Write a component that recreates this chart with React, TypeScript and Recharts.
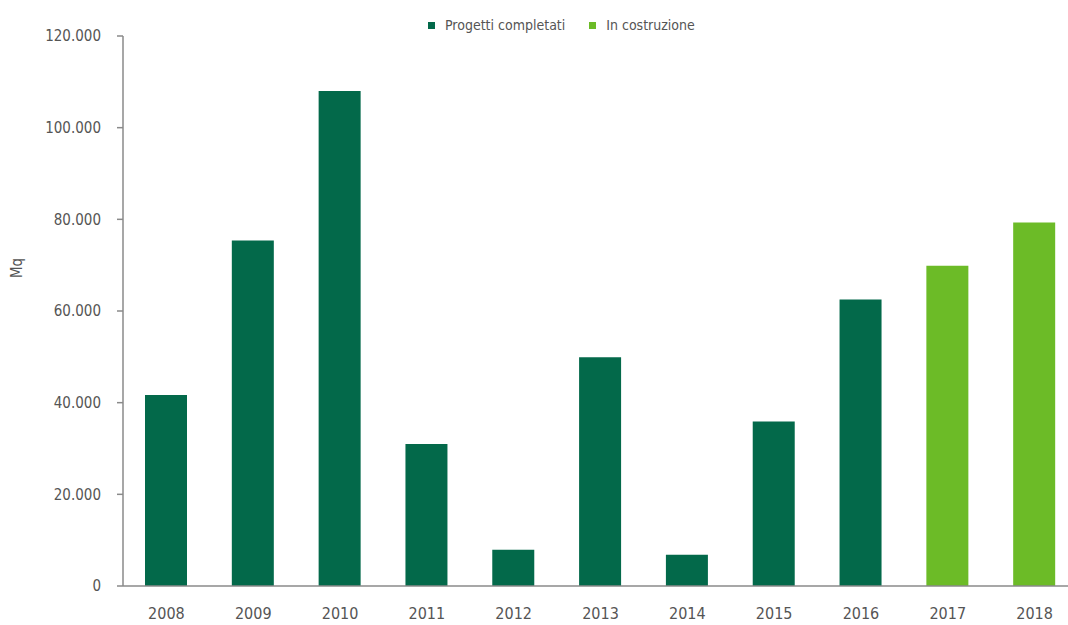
import React from "react";
import { BarChart, Bar, XAxis, YAxis, Legend, Label } from "recharts";

const years = ["2008", "2009", "2010", "2011", "2012", "2013", "2014", "2015", "2016", "2017", "2018"];
const completati = [41700, 75400, 108000, 31000, 7900, 49900, 6800, 35900, 62500, null, null];
const inCostruzione = [null, null, null, null, null, null, null, null, null, 69900, 79300];
const yTicks = [0, 20000, 40000, 60000, 80000, 100000, 120000];

const data = years.map((y, i) => ({
  year: y,
  completati: completati[i],
  costruzione: inCostruzione[i],
}));

const DARK = "#03694A";
const LIGHT = "#6CBB27";
const TEXT = "#555555";
const AXIS = "#8a8a8a";
const FONT = "'DejaVu Sans', sans-serif";
const fontStyle = { fontStretch: "condensed" as const };

const fmt = (v: number) => v.toLocaleString("it-IT").replace(/\u00a0/g, "");

const legendItems = [
  { label: "Progetti completati", color: DARK },
  { label: "In costruzione", color: LIGHT },
];

const CustomLegend = () => (
  <div style={{ display: "flex", alignItems: "center", fontFamily: FONT, fontSize: 14, color: TEXT, lineHeight: "20px", fontStretch: "condensed" }}>
    {legendItems.map((it, i) => (
      <div key={i} style={{ display: "flex", alignItems: "center", marginRight: i === 0 ? 24 : 0 }}>
        <span style={{ display: "inline-block", width: 7, height: 7, background: it.color, marginRight: 10 }} />
        <span>{it.label}</span>
      </div>
    ))}
  </div>
);

const YLabel = () => {
  const cx = 17;
  const cy = 268;
  return (
    <text
      x={cx}
      y={cy}
      transform={`rotate(-90 ${cx} ${cy})`}
      textAnchor="middle"
      dominantBaseline="central"
      fontFamily={FONT}
      fontSize={15}
      fill={TEXT}
      style={fontStyle}
    >
      Mq
    </text>
  );
};

export default function App() {
  return (
    <div style={{ position: "fixed", left: 0, top: 0, width: 1068, height: 625, overflow: "hidden", background: "#fff" }}>
      <BarChart
        width={1080}
        height={625}
        data={data}
        margin={{ top: 16, right: 2, bottom: 9, left: 0 }}
        barSize={42}
      >
        <Legend
          verticalAlign="top"
          height={20}
          content={<CustomLegend />}
          wrapperStyle={{ position: "absolute", top: 15, left: 428, width: "auto", height: 20 }}
        />
        <XAxis
          dataKey="year"
          height={30}
          axisLine={{ stroke: AXIS, strokeWidth: 1.5 }}
          tickLine={false}
          tickSize={6}
          tickMargin={16}
          tick={{ fill: TEXT, fontFamily: FONT, fontSize: 16, style: fontStyle }}
          interval={0}
        />
        <YAxis
          width={123}
          domain={[0, 120000]}
          ticks={yTicks}
          tickFormatter={fmt}
          axisLine={{ stroke: AXIS, strokeWidth: 1.5 }}
          tickLine={{ stroke: AXIS, strokeWidth: 1.5 }}
          tickSize={6}
          tickMargin={16}
          tick={{ fill: TEXT, fontFamily: FONT, fontSize: 15, style: fontStyle }}
          interval={0}
        >
          <Label content={<YLabel />} />
        </YAxis>
        <Bar dataKey="completati" name="Progetti completati" stackId="a" fill={DARK} isAnimationActive={false} />
        <Bar dataKey="costruzione" name="In costruzione" stackId="a" fill={LIGHT} isAnimationActive={false} />
      </BarChart>
    </div>
  );
}
